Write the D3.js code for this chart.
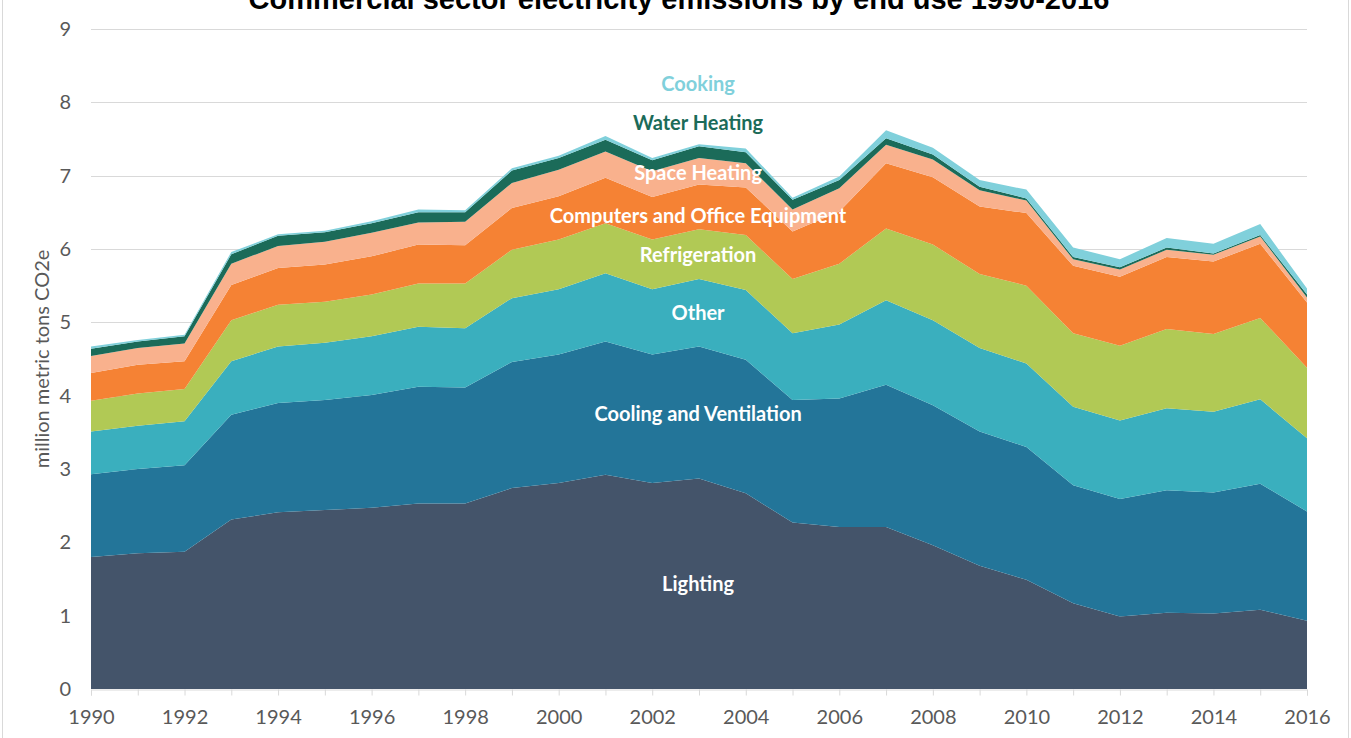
<!DOCTYPE html>
<html>
<head>
<meta charset="utf-8">
<script src="https://cdn.jsdelivr.net/npm/d3@7"></script>
<style>
  html, body { margin: 0; padding: 0; background: #fff; }
  svg { display: block; font-family: Lato, "Open Sans", sans-serif; }
</style>
</head>
<body>
<svg id="chart" width="1351" height="738"></svg>
<script>
const years = [1990,1991,1992,1993,1994,1995,1996,1997,1998,1999,2000,2001,2002,2003,2004,2005,2006,2007,2008,2009,2010,2011,2012,2013,2014,2015,2016];
const seriesNames = ["Lighting","Cooling and Ventilation","Other","Refrigeration","Computers and Office Equipment","Space Heating","Water Heating","Cooking"];
const lighting = [1.80,1.85,1.87,2.31,2.41,2.44,2.47,2.53,2.53,2.74,2.81,2.92,2.81,2.87,2.67,2.27,2.21,2.21,1.96,1.68,1.49,1.17,0.99,1.04,1.03,1.08,0.93];
const cooling = [1.13,1.15,1.18,1.43,1.49,1.50,1.54,1.59,1.58,1.72,1.75,1.82,1.75,1.80,1.82,1.67,1.75,1.94,1.91,1.83,1.81,1.61,1.60,1.67,1.65,1.72,1.49];
const other = [0.58,0.59,0.60,0.73,0.77,0.78,0.80,0.82,0.81,0.87,0.89,0.93,0.89,0.92,0.95,0.91,1.01,1.15,1.16,1.14,1.14,1.07,1.07,1.12,1.10,1.15,1.00];
const refrigeration = [0.42,0.44,0.44,0.56,0.57,0.56,0.57,0.59,0.61,0.66,0.68,0.68,0.68,0.68,0.75,0.74,0.83,0.98,1.03,1.01,1.06,1.00,1.02,1.08,1.06,1.11,0.96];
const computers = [0.38,0.39,0.38,0.48,0.50,0.51,0.52,0.53,0.52,0.57,0.59,0.62,0.58,0.61,0.65,0.65,0.71,0.89,0.92,0.92,0.99,0.92,0.94,0.98,0.99,1.01,0.89];
const spaceHeating = [0.23,0.23,0.24,0.29,0.30,0.31,0.32,0.30,0.32,0.34,0.36,0.36,0.35,0.36,0.33,0.30,0.32,0.25,0.24,0.22,0.17,0.09,0.10,0.10,0.09,0.10,0.07];
const waterHeating = [0.10,0.09,0.10,0.13,0.14,0.13,0.13,0.14,0.13,0.17,0.16,0.16,0.15,0.16,0.15,0.13,0.11,0.09,0.07,0.05,0.03,0.03,0.03,0.03,0.02,0.02,0.04];
const cooking = [0.03,0.02,0.02,0.03,0.02,0.02,0.03,0.04,0.03,0.03,0.03,0.05,0.03,0.03,0.05,0.03,0.05,0.11,0.09,0.09,0.12,0.13,0.11,0.13,0.13,0.15,0.08];
const yTicks = [0,1,2,3,4,5,6,7,8,9];
const xTickLabels = [1990,1992,1994,1996,1998,2000,2002,2004,2006,2008,2010,2012,2014,2016];
const colors = ["#44546a","#237599","#3aafbe","#b1c955","#f58234","#f9b18d","#1b6b59","#80d0db"];

const seriesValues = [lighting, cooling, other, refrigeration, computers, spaceHeating, waterHeating, cooking];
const table = years.map((y, i) => {
  const row = { year: y };
  seriesNames.forEach((n, k) => row[n] = seriesValues[k][i]);
  return row;
});

const svg = d3.select("#chart");
const W = 1351, H = 738;
const m = { left: 91, right: 44, top: 29, bottom: 49 };

// outer chart border
svg.append("rect").attr("x", 2.5).attr("y", -5).attr("width", W - 5).attr("height", H + 10)
  .attr("fill", "none").attr("stroke", "#d9d9d9").attr("stroke-width", 1);

const x = d3.scaleLinear().domain([1990, 2016]).range([m.left, W - m.right]);
const y = d3.scaleLinear().domain([0, 9]).range([H - m.bottom, m.top]);

// gridlines
svg.append("g").selectAll("line").data(yTicks.filter(t => t > 0)).join("line")
  .attr("x1", x(1990)).attr("x2", x(2016))
  .attr("y1", d => Math.round(y(d)) + 0.5).attr("y2", d => Math.round(y(d)) + 0.5)
  .attr("stroke", "#d9d9d9").attr("stroke-width", 1);

const stack = d3.stack().keys(seriesNames);
const layers = stack(table);
const area = d3.area()
  .x(d => x(d.data.year))
  .y0(d => y(d[0]))
  .y1(d => y(d[1]))
  .curve(d3.curveLinear);

svg.append("g").selectAll("path").data(layers).join("path")
  .attr("d", area)
  .attr("fill", (d, i) => colors[i]);

// y axis labels
const yAxis = d3.axisLeft(y).tickValues(yTicks).tickSize(0).tickPadding(20);
const gy = svg.append("g").attr("transform", `translate(${m.left},0)`).call(yAxis);
gy.select(".domain").remove();
gy.selectAll("text").attr("fill", "#595959").attr("font-size", 20).attr("font-family", "Lato, sans-serif");

// x axis
const xAxis = d3.axisBottom(x).tickValues(years).tickSize(6).tickPadding(12).tickFormat(d => xTickLabels.includes(d) ? d : "");
const gx = svg.append("g").attr("transform", `translate(0,${H - m.bottom + 0.5})`).call(xAxis);
gx.select(".domain").attr("stroke", "#d9d9d9");
gx.selectAll(".tick line").attr("stroke", "#d9d9d9");
gx.selectAll("text").attr("fill", "#595959").attr("font-size", 20).attr("font-family", "Lato, sans-serif").attr("dy", "0.8em");

// y axis title
svg.append("text")
  .attr("transform", `translate(49,${y(4.5)}) rotate(-90)`)
  .attr("text-anchor", "middle")
  .attr("fill", "#595959").attr("font-size", 20)
  .text("million metric tons CO2e");

// title (cut off at top)
svg.append("text")
  .attr("x", 679).attr("y", 9)
  .attr("text-anchor", "middle")
  .attr("font-family", "Liberation Sans, Arial, sans-serif")
  .attr("font-weight", "bold").attr("font-size", 29).attr("fill", "#000")
  .text("Commercial sector electricity emissions by end use 1990-2016");

// series labels
const labelData = [
  { name: "Cooking", yv: 8.22, color: "#80d0db" },
  { name: "Water Heating", yv: 7.69, color: "#1b6b59" },
  { name: "Space Heating", yv: 7.01, color: "#ffffff" },
  { name: "Computers and Office Equipment", yv: 6.43, color: "#ffffff" },
  { name: "Refrigeration", yv: 5.89, color: "#ffffff" },
  { name: "Other", yv: 5.10, color: "#ffffff" },
  { name: "Cooling and Ventilation", yv: 3.73, color: "#ffffff" },
  { name: "Lighting", yv: 1.40, color: "#ffffff" }
];
svg.append("g").selectAll("text").data(labelData).join("text")
  .attr("x", x(2002.98)).attr("y", d => y(d.yv))
  .attr("text-anchor", "middle")
  .attr("dominant-baseline", "middle")
  .attr("font-weight", "bold").attr("font-size", 20)
  .attr("fill", d => d.color)
  .text(d => d.name);
</script>
</body>
</html>
